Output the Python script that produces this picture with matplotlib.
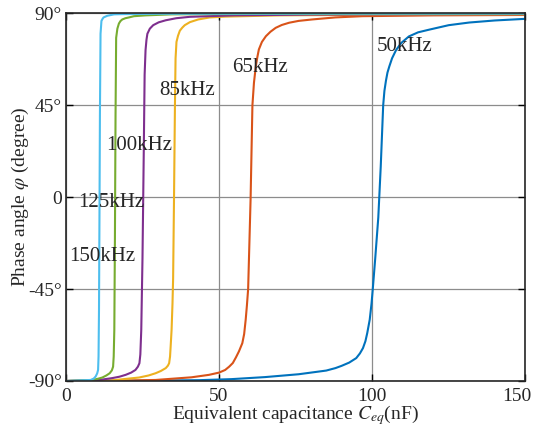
import matplotlib
matplotlib.use("Agg")
import matplotlib.pyplot as plt
import matplotlib.transforms as mtransforms

plt.rcParams["font.family"] = ["Liberation Serif", "DejaVu Serif"]
plt.rcParams["mathtext.fontset"] = "stix"

# Equivalent capacitance (nF) and phase angle (degree)
c_50k = [0.5, 20, 43.5, 54, 65, 76, 85, 88, 90, 92.5, 94.8, 96, 97, 97.8, 98.4, 99.2, 99.8,
         100.2, 101, 102, 102.8, 103.6, 104, 104.5, 105, 105.6, 106.5, 107.8, 109.5,
         112, 115, 118.6, 125, 131.7, 140, 150]
p_50k = [-90, -89.9, -89.6, -89.1, -88.1, -86.7, -84.9, -83.7, -82.6, -81, -78.8, -76.5, -73.9, -70.5, -66.5, -60, -52,
         -45, -30, -10, 15, 45, 52, 57, 61, 64, 68, 72, 75.5,
         78.7, 80.7, 82, 84.2, 85.5, 86.5, 87.3]

c_65k = [0.5, 15, 29.3, 41, 46.7, 50, 52, 53.3, 54.5, 55.5, 56.5, 57.6, 58.2, 58.7, 59.1, 59.5,
         60.3, 60.9, 61.4, 62, 62.5, 63, 64, 65.3, 66.8, 68.5, 70.5, 72.9, 76, 80.4,
         88, 96.8, 120, 150]
p_65k = [-90, -89.9, -89.5, -88.2, -87, -85.9, -84.6, -83, -81.2, -78.5, -75.5, -71.5, -67, -60, -53, -45,
         -1, 45, 56, 64, 68.5, 72.3, 76, 78.8, 81, 82.9, 84.3, 85.4, 86.3, 87,
         88, 88.6, 89, 89.2]

c_85k = [0.5, 15, 23.9, 27, 29.3, 31, 32.6, 33.3, 33.7, 34, 34.2, 34.5, 34.8, 35.0,
         35.3, 35.6, 35.8, 36.1, 36.6, 37.2, 38, 38.8, 40.5, 43.2, 47, 52, 70, 100, 150]
p_85k = [-90, -89.7, -88.3, -87.3, -86.2, -85.1, -83.7, -82.5, -81.3, -78, -73, -65, -52, -40,
         0, 45, 68, 76, 79, 81.5, 83, 84.2, 85.7, 87, 88, 88.4, 89, 89.3, 89.5]

c_100k = [0.5, 10, 15.1, 17.5, 19.5, 21.3, 22.7, 23.5, 24, 24.3, 24.6, 25.0, 25.4,
          25.7, 26.0, 26.3, 26.6, 27.4, 28.5, 30.3, 32.6, 36, 40.5, 55, 80, 150]
p_100k = [-90, -89.7, -88.6, -87.9, -87, -85.9, -84.6, -83, -81.3, -77, -65, -30, 20,
          60, 72, 77, 80, 82.5, 84.2, 85.6, 86.6, 87.6, 88.3, 89, 89.4, 89.6]

c_125k = [0.5, 8.6, 10.5, 11.9, 13.2, 14.3, 15, 15.4, 15.6, 15.8, 16.0, 16.2, 16.4,
          16.8, 17.3, 17.8, 18.4, 19.4, 20.6, 22.2, 26, 34.6, 60, 150]
p_125k = [-90, -89.5, -88.9, -88.3, -87.3, -86.2, -84.8, -83, -78, -65, -20, 40, 78,
          82.5, 85, 86.2, 87, 87.6, 88, 88.6, 89, 89.5, 89.7, 89.8]

c_150k = [0.5, 8.1, 9.1, 9.7, 10.2, 10.5, 10.65, 10.8, 10.95, 11.1, 11.3, 11.6, 12.0,
          12.3, 13.5, 15.7, 18, 30, 150]
p_150k = [-90, -89.5, -88.8, -87.8, -86.3, -84.6, -78, -55, -10, 40, 80, 86.3, 87.4,
          88, 88.8, 89.5, 89.6, 89.8, 89.9]

labels = ["50kHz", "65kHz", "85kHz", "100kHz", "125kHz", "150kHz"]
colors = ["#0072BD", "#D95319", "#EDB120", "#7E2F8E", "#77AC30", "#4DBEEE"]
# where each label sits (nF, degree)
label_pos = [(101.6, 74), (54.3, 63.5), (30.6, 52), (13.3, 25.5), (3.9, -2.5), (1.1, -29)]

xticks = [0, 50, 100, 150]
yticks = [-90, -45, 0, 45, 90]
yticklabels = ["-90°", "-45°", "0", "45°", "90°"]

fig = plt.figure(figsize=(5.36, 4.30), dpi=100)
ax = fig.add_axes([0.123, 0.114, 0.857, 0.855])

curves = [(c_50k, p_50k), (c_65k, p_65k), (c_85k, p_85k),
          (c_100k, p_100k), (c_125k, p_125k), (c_150k, p_150k)]
for (c, p), col in zip(curves, colors):
    ax.plot(c, p, color=col, lw=1.5, solid_joinstyle="round")

for txt, (x, y) in zip(labels, label_pos):
    ax.text(x, y, txt, fontsize=15, va="center", ha="left", color="#262626")

ax.set_xlim(0, 150)
ax.set_ylim(-90, 90)
ax.set_xticks(xticks)
ax.set_yticks(yticks)
ax.set_yticklabels(yticklabels)
ax.grid(True, color="#8c8c8c", lw=0.9)
ax.tick_params(direction="in", top=True, right=True, length=5, width=1,
               labelsize=14, labelcolor="#262626")
ax.tick_params(axis="x", pad=5)
ax.tick_params(axis="y", pad=3)
for s in ax.spines.values():
    s.set_linewidth(1.2)
    s.set_color("#262626")

# last x label nudged inwards so it stays inside the figure
last = ax.get_xticklabels()[-1]
last.set_transform(last.get_transform() + mtransforms.ScaledTranslation(-6 / 72, 0, fig.dpi_scale_trans))

ax.set_xlabel("Equivalent capacitance $C_{eq}$(nF)", fontsize=14, color="#262626", labelpad=-1)
ax.set_ylabel(r"Phase angle $\varphi$ (degree)", fontsize=14, color="#262626", labelpad=-2)

fig.savefig("out.png", dpi=100)
